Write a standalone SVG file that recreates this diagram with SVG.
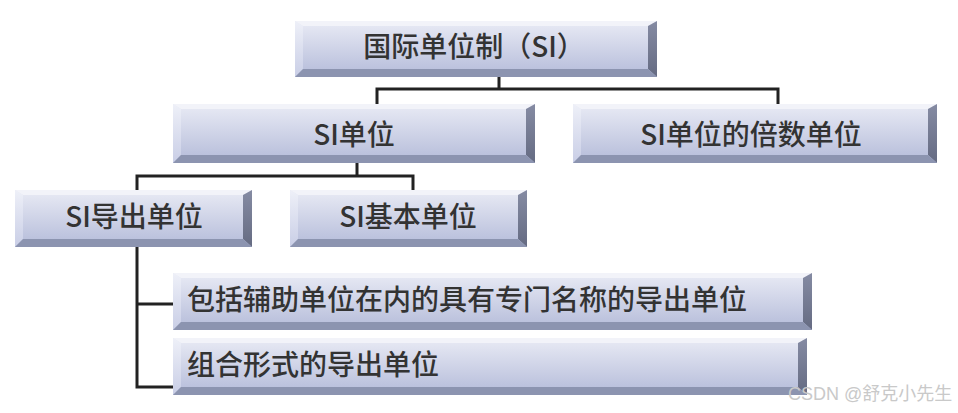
<svg xmlns="http://www.w3.org/2000/svg" width="958" height="413" viewBox="0 0 958 413">
<defs>
<linearGradient id="face" x1="0" y1="0" x2="0" y2="1">
<stop offset="0" stop-color="#e9ebf5"/>
<stop offset="1" stop-color="#b4bbd9"/>
</linearGradient>
<linearGradient id="rside" x1="0" y1="0" x2="0" y2="1">
<stop offset="0" stop-color="#858ba3"/>
<stop offset="1" stop-color="#656b82"/>
</linearGradient>
<linearGradient id="lside" x1="0" y1="0" x2="0" y2="1">
<stop offset="0" stop-color="#eef0f8"/>
<stop offset="1" stop-color="#c9cee6"/>
</linearGradient>
</defs>
<style>
.face{fill:url(#face)}
.top{fill:#f2f3f9}
.left{fill:url(#lside)}
.right{fill:url(#rside)}
.bot{fill:#8c94b0}
.lbl{font-family:"Noto Sans CJK SC","Noto Sans",sans-serif;font-size:28px;font-weight:500;fill:#333333}
.mid{text-anchor:middle}
.conn{fill:none;stroke:#222222;stroke-width:3}
.wm{font-family:"Liberation Sans","Noto Sans CJK SC",sans-serif;font-size:18px;fill:#c9c9c9}
</style>
<g id="connectors">
<path class="conn" d="M499,77 V89 M377,104 V89 H778 V104"/>
<path class="conn" d="M357,163 V176 M137,190 V176 H413 V190"/>
<path class="conn" d="M137,247 V387 H173 M137,304 H173"/>
</g>
<g id="n1">
<rect class="face" x="295" y="21" width="362" height="56"/>
<polygon class="top" points="295,21 657,21 648,26 303,26"/>
<polygon class="left" points="295,21 303,26 303,69 295,77"/>
<polygon class="right" points="657,21 657,77 648,69 648,26"/>
<polygon class="bot" points="295,77 657,77 648,69 303,69"/>
<text class="lbl mid" x="474" y="57">国际单位制（SI）</text>
</g>
<g id="n2">
<rect class="face" x="173" y="104" width="362" height="59"/>
<polygon class="top" points="173,104 535,104 526,109 181,109"/>
<polygon class="left" points="173,104 181,109 181,155 173,163"/>
<polygon class="right" points="535,104 535,163 526,155 526,109"/>
<polygon class="bot" points="173,163 535,163 526,155 181,155"/>
<text class="lbl mid" x="354" y="145">SI单位</text>
</g>
<g id="n3">
<rect class="face" x="573" y="104" width="364" height="59"/>
<polygon class="top" points="573,104 937,104 928,109 581,109"/>
<polygon class="left" points="573,104 581,109 581,155 573,163"/>
<polygon class="right" points="937,104 937,163 928,155 928,109"/>
<polygon class="bot" points="573,163 937,163 928,155 581,155"/>
<text class="lbl mid" x="751" y="145">SI单位的倍数单位</text>
</g>
<g id="n4">
<rect class="face" x="15" y="190" width="237" height="57"/>
<polygon class="top" points="15,190 252,190 243,195 23,195"/>
<polygon class="left" points="15,190 23,195 23,239 15,247"/>
<polygon class="right" points="252,190 252,247 243,239 243,195"/>
<polygon class="bot" points="15,247 252,247 243,239 23,239"/>
<text class="lbl mid" x="134" y="227">SI导出单位</text>
</g>
<g id="n5">
<rect class="face" x="290" y="190" width="237" height="57"/>
<polygon class="top" points="290,190 527,190 518,195 298,195"/>
<polygon class="left" points="290,190 298,195 298,239 290,247"/>
<polygon class="right" points="527,190 527,247 518,239 518,195"/>
<polygon class="bot" points="290,247 527,247 518,239 298,239"/>
<text class="lbl mid" x="408" y="227">SI基本单位</text>
</g>
<g id="n6">
<rect class="face" x="173" y="273" width="639" height="57"/>
<polygon class="top" points="173,273 812,273 803,278 181,278"/>
<polygon class="left" points="173,273 181,278 181,322 173,330"/>
<polygon class="right" points="812,273 812,330 803,322 803,278"/>
<polygon class="bot" points="173,330 812,330 803,322 181,322"/>
<text class="lbl" x="187" y="310">包括辅助单位在内的具有专门名称的导出单位</text>
</g>
<g id="n7">
<rect class="face" x="173" y="338" width="634" height="57"/>
<polygon class="top" points="173,338 807,338 798,343 181,343"/>
<polygon class="left" points="173,338 181,343 181,387 173,395"/>
<polygon class="right" points="807,338 807,395 798,387 798,343"/>
<polygon class="bot" points="173,395 807,395 798,387 181,387"/>
<text class="lbl" x="187" y="375">组合形式的导出单位</text>
</g>
<text class="wm" x="788" y="400">CSDN @舒克小先生</text>
</svg>
